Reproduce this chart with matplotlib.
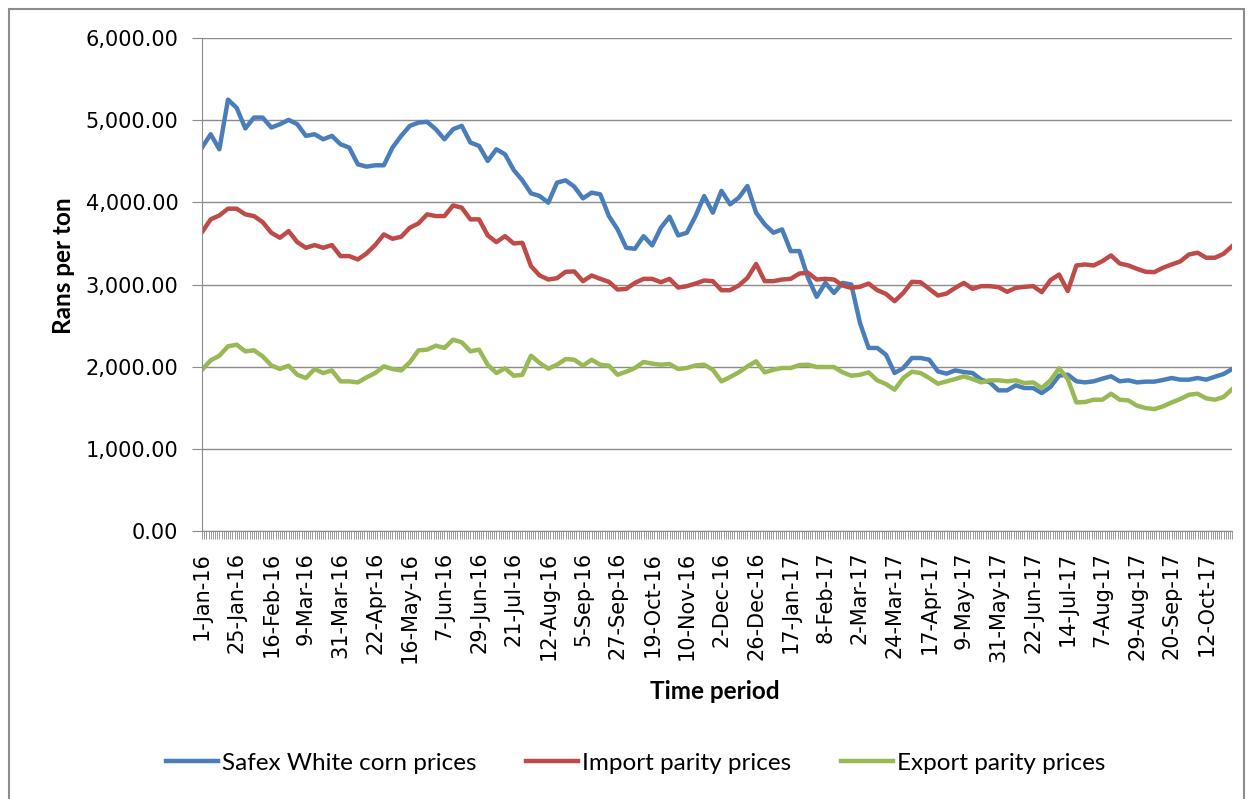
import numpy as np
import pandas as pd
import matplotlib
matplotlib.use("Agg")
import matplotlib.pyplot as plt
from matplotlib.patches import Rectangle
from matplotlib.ticker import FuncFormatter

# trading days Jan 2016 - Oct 2017, values read every 4th trading day
n_days = 477
step = 4
label_every = 16

safex = [4667, 4829, 4646, 5250, 5150, 4900, 5032, 5032, 4911, 4951,
         5004, 4951, 4809, 4829, 4768, 4809, 4707, 4667, 4463, 4435,
         4451, 4451, 4667, 4809, 4931, 4971, 4980, 4890, 4768, 4890,
         4931, 4728, 4687, 4504, 4646, 4585, 4394, 4268, 4110, 4077,
         3996, 4240, 4268, 4191, 4049, 4118, 4098, 3833, 3671, 3447,
         3435, 3589, 3476, 3691, 3825, 3598, 3630, 3833, 4077, 3874,
         4140, 3976, 4057, 4199, 3874, 3732, 3630, 3671, 3407, 3407,
         3081, 2850, 3020, 2898, 3020, 3000, 2532, 2228, 2228, 2146,
         1923, 1984, 2106, 2106, 2085, 1943, 1915, 1955, 1935, 1923,
         1842, 1809, 1712, 1712, 1773, 1740, 1740, 1679, 1753, 1891,
         1903, 1822, 1809, 1822, 1854, 1883, 1822, 1834, 1809, 1818,
         1818, 1838, 1862, 1842, 1842, 1862, 1842, 1878, 1911, 1972]

import_parity = [3638, 3793, 3841, 3923, 3923, 3854, 3833, 3760, 3630, 3569,
                 3650, 3516, 3447, 3480, 3447, 3480, 3346, 3346, 3305, 3378,
                 3480, 3610, 3557, 3581, 3691, 3744, 3854, 3833, 3833, 3963,
                 3935, 3793, 3793, 3598, 3516, 3589, 3500, 3508, 3224, 3110,
                 3061, 3077, 3155, 3159, 3041, 3110, 3069, 3033, 2939, 2947,
                 3020, 3069, 3069, 3028, 3069, 2963, 2980, 3012, 3049, 3041,
                 2930, 2931, 2988, 3081, 3250, 3041, 3041, 3061, 3069, 3134,
                 3142, 3061, 3069, 3061, 2988, 2959, 2972, 3012, 2931, 2886,
                 2797, 2898, 3033, 3028, 2947, 2866, 2890, 2959, 3020, 2947,
                 2980, 2980, 2968, 2911, 2960, 2972, 2980, 2907, 3053, 3122,
                 2920, 3232, 3244, 3232, 3285, 3354, 3256, 3232, 3191, 3155,
                 3151, 3204, 3244, 3281, 3366, 3387, 3326, 3326, 3374, 3468]

export_parity = [1963, 2077, 2134, 2248, 2268, 2187, 2199, 2126, 2016, 1972,
                 2012, 1902, 1862, 1972, 1923, 1955, 1821, 1821, 1809, 1870,
                 1923, 2004, 1972, 1955, 2053, 2199, 2207, 2256, 2228, 2329,
                 2297, 2187, 2207, 2024, 1923, 1980, 1890, 1902, 2134, 2045,
                 1976, 2024, 2093, 2085, 2012, 2085, 2024, 2012, 1902, 1939,
                 1984, 2057, 2037, 2024, 2033, 1972, 1984, 2016, 2024, 1963,
                 1821, 1874, 1931, 2004, 2065, 1931, 1963, 1984, 1984, 2020,
                 2024, 1996, 1996, 1996, 1931, 1890, 1902, 1931, 1833, 1789,
                 1720, 1862, 1939, 1923, 1862, 1793, 1821, 1850, 1882, 1850,
                 1809, 1834, 1834, 1822, 1834, 1801, 1809, 1740, 1834, 1980,
                 1850, 1565, 1570, 1598, 1598, 1671, 1598, 1590, 1525, 1496,
                 1484, 1517, 1565, 1606, 1659, 1671, 1614, 1598, 1631, 1728]

series_names = ["Safex White corn prices", "Import parity prices", "Export parity prices"]
colors = ["#4A7EBB", "#BE4B48", "#98B954"]

days = pd.bdate_range("2016-01-01", periods=n_days)
pos = np.arange(0, n_days, step)
tick_pos = np.arange(0, n_days, label_every)
tick_labels = [f"{d.day}-{d.strftime('%b-%y')}" for d in days[tick_pos]]

fig = plt.figure(figsize=(12.51, 7.99), dpi=100)
ax = fig.add_axes([0.1615, 0.3354, 0.8235, 0.617])

for vals, name, c in zip([safex, import_parity, export_parity], series_names, colors):
    ax.plot(pos, vals, color=c, lw=3.2, label=name, solid_joinstyle="round")

ax.set_xlim(0, n_days - 1)
ax.set_ylim(0, 6000)
ax.set_yticks(np.arange(0, 6001, 1000))
ax.yaxis.set_major_formatter(FuncFormatter(lambda v, p: f"{v:,.2f}"))
ax.grid(axis="y", color="#8C8C8C", lw=1)
ax.set_axisbelow(True)

ax.set_xticks(tick_pos)
ax.set_xticklabels(tick_labels, rotation=90, fontsize=15, family="DejaVu Sans")
ax.set_xticks(np.arange(n_days), minor=True)
ax.tick_params(axis="x", which="both", length=6, color="#8C8C8C", width=0.6, pad=9)
ax.tick_params(axis="y", length=7, color="#8C8C8C", labelsize=15, pad=10)

for s in ["top", "right"]:
    ax.spines[s].set_visible(False)
for s in ["left", "bottom"]:
    ax.spines[s].set_color("#8C8C8C")

ax.set_ylabel("Rans per ton", fontsize=17.5, fontweight="bold", family="Lato")
ax.yaxis.set_label_coords(-0.123, 0.5375)
ax.set_xlabel("Time period", fontsize=17.5, fontweight="bold", family="Lato")
ax.xaxis.set_label_coords(0.498, -0.302)

ax.legend(loc="center", bbox_to_anchor=(0.508, 0.045), bbox_transform=fig.transFigure,
          ncol=3, frameon=False, prop={"family": "Lato", "size": 17.5},
          handlelength=2.15, handletextpad=0.15, columnspacing=2.05)

fig.patches.append(Rectangle((9 / 1251, -0.02), 1235 / 1251, 1.02 - 9 / 799,
                             transform=fig.transFigure, fill=False,
                             edgecolor="#8C8C8C", lw=1.5))

fig.savefig("out.png", dpi=100)
